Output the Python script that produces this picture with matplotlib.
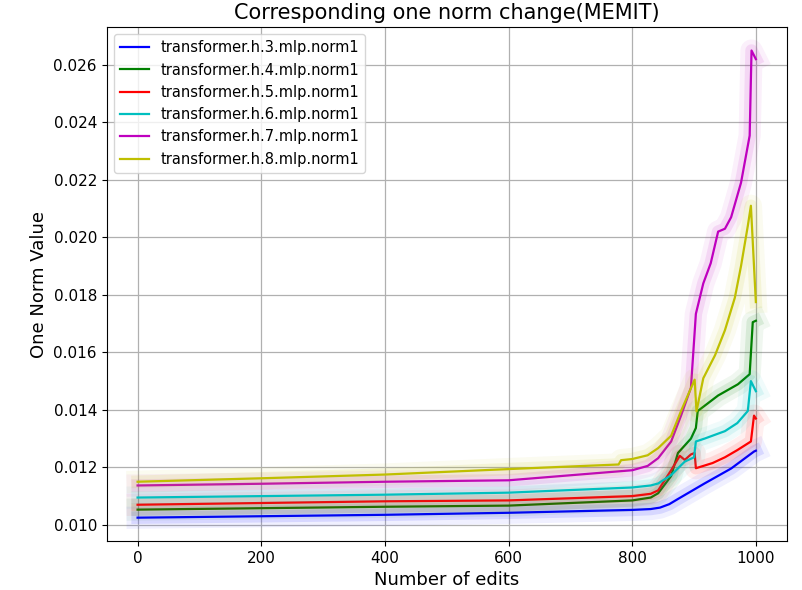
import matplotlib

matplotlib.use("Agg")
import matplotlib.pyplot as plt

edits_h3 = [0, 200, 400, 600, 800, 830, 845, 860, 874, 917, 960, 997, 1000]
norm_h3 = [0.01025, 0.01030, 0.01035, 0.01042, 0.01052, 0.01055, 0.01060,
           0.01072, 0.01090, 0.01144, 0.01196, 0.01255, 0.01258]

edits_h4 = [0, 200, 400, 600, 800, 830, 842, 863, 874, 895, 903, 906, 939,
            971, 990, 995, 1000]
norm_h4 = [0.01053, 0.01058, 0.01063, 0.01067, 0.01085, 0.01095, 0.01110,
           0.01170, 0.01250, 0.01300, 0.01337, 0.01396, 0.01450, 0.01489,
           0.01524, 0.01705, 0.01710]

edits_h5 = [0, 200, 400, 600, 800, 830, 842, 863, 877, 885, 895, 901, 903,
            930, 950, 970, 992, 997, 1000]
norm_h5 = [0.01070, 0.01076, 0.01082, 0.01085, 0.01100, 0.01108, 0.01120,
           0.01190, 0.01240, 0.01226, 0.01245, 0.01250, 0.01197, 0.01215,
           0.01235, 0.01260, 0.01290, 0.01380, 0.01370]

edits_h6 = [0, 200, 400, 600, 800, 830, 842, 863, 885, 900, 903, 917, 950,
            970, 987, 992, 1000]
norm_h6 = [0.01095, 0.01100, 0.01105, 0.01112, 0.01130, 0.01137, 0.01144,
           0.01173, 0.01220, 0.01235, 0.01290, 0.01300, 0.01326, 0.01354,
           0.01396, 0.01500, 0.01465]

edits_h7 = [0, 200, 400, 600, 800, 825, 842, 863, 879, 895, 903, 915, 927,
            939, 950, 960, 976, 990, 993, 1000]
norm_h7 = [0.01137, 0.01143, 0.01150, 0.01155, 0.01190, 0.01205, 0.01232,
           0.01290, 0.01380, 0.01477, 0.01734, 0.01840, 0.01910, 0.02020,
           0.02030, 0.02070, 0.02190, 0.02354, 0.02650, 0.02620]

edits_h8 = [0, 200, 400, 600, 778, 782, 800, 825, 842, 863, 879, 901, 904,
            915, 934, 950, 966, 976, 987, 992, 1000]
norm_h8 = [0.01150, 0.01162, 0.01175, 0.01194, 0.01210, 0.01225, 0.01229,
           0.01242, 0.01267, 0.01310, 0.01396, 0.01505, 0.01395, 0.01510,
           0.01590, 0.01677, 0.01790, 0.01900, 0.02040, 0.02110, 0.01775]

layers = ["transformer.h.3.mlp.norm1", "transformer.h.4.mlp.norm1",
          "transformer.h.5.mlp.norm1", "transformer.h.6.mlp.norm1",
          "transformer.h.7.mlp.norm1", "transformer.h.8.mlp.norm1"]
series = [(edits_h3, norm_h3), (edits_h4, norm_h4), (edits_h5, norm_h5),
          (edits_h6, norm_h6), (edits_h7, norm_h7), (edits_h8, norm_h8)]
colors = ["b", "g", "r", "c", "m", "y"]

fig = plt.figure(figsize=(8.02, 5.90), dpi=100)
ax = fig.add_axes([0.133, 0.083, 0.848, 0.871])

for (x, y), name, color in zip(series, layers, colors):
    # soft glow behind each line
    ax.plot(x, y, color=color, linewidth=16, alpha=0.06,
            solid_capstyle="projecting", solid_joinstyle="round")
    ax.plot(x, y, color=color, linewidth=9, alpha=0.10,
            solid_capstyle="projecting", solid_joinstyle="round")
    ax.plot(x, y, color=color, linewidth=1.6, label=name)

ax.set_yticks([0.010, 0.012, 0.014, 0.016, 0.018, 0.020, 0.022, 0.024, 0.026])
ax.tick_params(labelsize=11)
ax.grid(True, color="#b0b0b0", linewidth=0.9)
ax.set_xlabel("Number of edits", fontsize=13)
ax.set_ylabel("One Norm Value", fontsize=13)
ax.set_title("Corresponding one norm change(MEMIT)", fontsize=15)
ax.legend(loc="upper left", fontsize=10.5)

fig.savefig("out.png", dpi=100)
